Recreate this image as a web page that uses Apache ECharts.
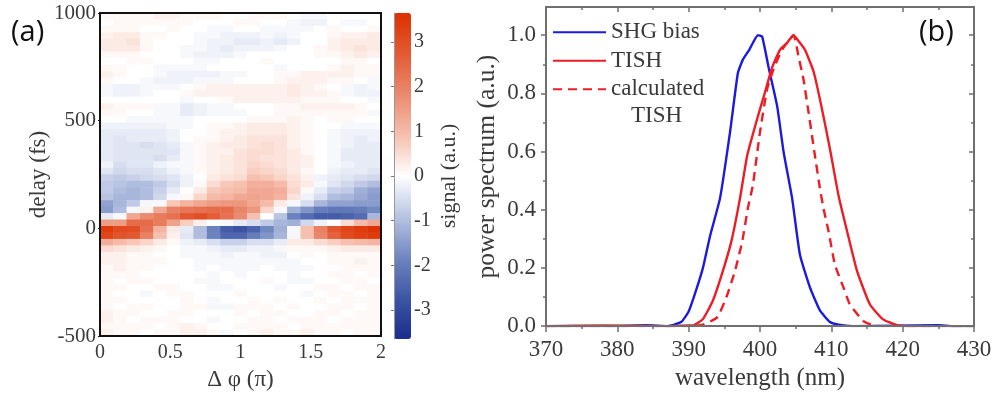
<!DOCTYPE html>
<html>
<head>
<meta charset="utf-8">
<style>
html,body{margin:0;padding:0;background:#fff;}
#main{width:995px;height:396px;filter:blur(0.5px);}
</style>
<script src="https://cdn.jsdelivr.net/npm/echarts@6/dist/echarts.min.js"></script>
</head>
<body>
<div id="main"></div>
<script>
// panel (a): phase bins across, rows run from +1000 fs (top) to -500 fs (bottom)
var phaseBins = [0,0.1,0.2,0.3,0.4,0.5,0.6,0.7,0.8,0.9,1,1.1,1.2,1.3,1.4,1.5,1.6,1.7,1.8,1.9,2];
var signalRows = [
  [.1,.1,.1,.1,.2,.2,.1,.1,.1,0,0,.1,.1,.1,0,-.1,-.1,0,0,0,0],
  [0,.1,.1,.1,.1,.1,.1,0,0,0,.1,.1,0,0,-.1,-.2,-.2,0,-.1,-.1,0],
  [.1,.1,.1,0,0,.1,0,0,-.1,-.1,0,0,-.1,-.1,-.1,-.1,0,.1,0,0,.1],
  [.2,.3,.3,.1,.1,0,0,-.1,-.1,-.2,-.2,-.2,-.1,-.2,-.1,0,0,.1,.2,.2,.3],
  [.3,.3,.4,.1,0,0,0,-.1,-.2,-.2,-.3,-.3,-.2,-.3,-.2,0,0,.2,.3,.3,.3],
  [.3,.3,.3,.1,0,0,-.1,-.1,-.2,-.3,-.2,-.2,-.2,-.1,0,0,.1,.2,.3,.4,.3],
  [.1,.1,.1,0,0,0,-.1,-.2,-.2,-.2,-.1,0,0,0,0,0,.1,.1,.2,.3,.2],
  [0,0,.1,.1,0,0,0,-.1,-.1,0,0,0,.1,0,0,0,0,0,.1,.1,0],
  [.1,.1,0,0,-.1,-.1,-.1,-.1,0,0,0,0,0,-.1,0,0,0,.1,.2,.1,.1],
  [.2,.1,0,0,-.1,-.2,-.2,-.2,-.2,-.1,-.1,0,0,.1,.1,.2,.2,.2,.2,.1,.1],
  [.1,0,0,-.1,-.2,-.2,-.2,-.1,-.1,-.1,0,0,0,.1,.2,.2,.2,.1,.1,0,-.1],
  [-.1,-.2,-.2,-.1,-.1,-.1,0,.1,.2,.2,.2,.2,.2,.2,.3,.2,.1,0,-.1,-.2,-.1],
  [-.1,-.2,-.2,-.1,0,0,.1,.2,.2,.2,.2,.2,.2,.2,.3,.2,.2,.1,-.1,-.2,-.2],
  [0,0,0,0,0,0,-.1,0,0,.1,.2,.2,.2,.2,.2,.1,.1,.1,0,0,-.1],
  [.2,.1,.1,.1,-.1,-.1,-.3,-.2,-.1,-.1,0,0,0,.1,.1,.2,.2,.2,.2,.1,0],
  [.1,.1,0,0,-.1,-.1,-.3,-.2,-.1,-.1,-.1,0,0,.1,.1,.1,.1,.1,.1,.1,-.1],
  [0,0,-.1,-.1,-.1,-.1,-.1,0,0,0,0,.1,.1,.1,.2,.1,0,.1,.1,0,0],
  [-.2,-.2,-.2,-.2,-.2,-.1,-.1,0,.1,.1,.2,.3,.3,.3,.2,.1,0,0,-.1,-.1,-.1],
  [-.3,-.3,-.3,-.3,-.3,-.2,0,0,.1,.2,.2,.3,.3,.3,.2,.1,0,-.1,-.2,-.2,-.2],
  [-.3,-.4,-.3,-.3,-.3,-.2,0,.1,.1,.2,.3,.4,.4,.4,.2,.1,0,-.1,-.2,-.3,-.2],
  [-.3,-.4,-.4,-.5,-.4,-.3,-.1,.1,.2,.3,.3,.4,.5,.4,.2,.1,0,-.1,-.2,-.3,-.3],
  [-.3,-.4,-.4,-.4,-.4,-.4,-.1,.1,.2,.2,.4,.5,.5,.4,.3,.1,0,-.1,-.3,-.3,-.3],
  [-.3,-.4,-.4,-.4,-.5,-.3,-.1,.1,.2,.3,.4,.5,.4,.4,.3,.2,0,-.1,-.3,-.3,-.3],
  [-.2,-.5,-.4,-.4,-.2,-.1,-.1,.1,.2,.3,.4,.6,.5,.4,.3,.2,0,-.1,-.2,-.3,-.3],
  [-.4,-.6,-.5,-.5,-.4,-.2,-.1,.1,.2,.3,.4,.7,.6,.5,.3,.1,0,-.2,-.3,-.3,-.4],
  [-.7,-.8,-.7,-.6,-.5,-.4,-.2,0,.3,.4,.5,.9,.8,.6,.4,.2,-.2,-.3,-.4,-.5,-.6],
  [-.8,-.9,-1,-1,-.8,-.5,-.2,.1,.5,.8,.9,1.2,1.2,1,.5,.3,-.1,-.4,-.6,-.8,-1],
  [-.8,-1,-1.1,-1,-.7,-.3,0,.3,.8,.9,1,1.3,1.3,1.2,.6,.1,-.3,-.7,-.8,-1.2,-1.4],
  [-.9,-1.1,-1.1,-1,-.6,-.1,.1,.6,1,1.1,1.3,1.4,1.3,1.1,.4,-.2,-.5,-1,-1.1,-1.3,-1.5],
  [-1.4,-1.1,-.8,-.1,-.1,.8,1.1,1.3,1.5,1.6,1.6,1.3,1,.3,-.1,-.5,-1.1,-1.4,-1.4,-1.5,-1.5],
  [-1.5,-1,-.1,.2,1.3,2,2.2,2.3,2.4,2.4,1.9,1.6,.6,-.1,-1.2,-1.6,-2,-2.1,-2.1,-2,-1.8],
  [-.3,-.1,1.3,1.8,2.1,2.3,2.8,3,2.7,2.3,1.8,.9,0,-.9,-1.9,-2.3,-2.6,-2.6,-2.5,-2.3,-1.1],
  [1.5,1.5,2.4,2.4,2.1,1.4,.7,.2,0,-.1,-.3,-.5,-.8,-1.1,-1.2,-.6,-.2,0,.5,1,1.3],
  [3.4,3.1,3,2.3,1.1,.3,-.3,-1,-1.9,-2.6,-2.8,-2.5,-1.8,-1.2,-.1,.9,2,2.8,3.2,3.4,3.6],
  [3.2,2.9,2.8,2,.9,.2,-.4,-1,-1.9,-2.4,-2.4,-2,-1.6,-1.1,-.1,.9,1.9,2.6,3.1,3.3,3.4],
  [1.2,1,.8,.6,.3,.1,-.2,-.3,-.5,-.7,-.7,-.5,-.5,-.3,.3,.3,.5,.7,.9,1,1.1],
  [.5,.4,.3,.2,.1,0,-.1,-.1,-.2,-.3,-.3,-.2,-.2,-.1,.1,.1,.1,.2,.3,.3,.3],
  [.2,.2,.1,.1,0,0,-.1,-.1,-.1,-.2,-.1,-.1,-.2,-.2,0,.1,0,.1,.1,.1,.1],
  [.2,.2,.1,.1,.1,0,0,-.1,-.1,-.1,-.1,-.1,-.1,-.1,-.1,0,0,.1,.1,.2,.1],
  [.1,.2,.1,.1,0,0,0,-.1,0,-.1,-.1,-.1,0,-.1,-.1,-.1,0,0,.1,.1,.1],
  [.1,.1,.1,0,0,0,0,0,-.1,0,-.1,0,0,0,-.1,0,0,.1,.1,0,.1],
  [.1,0,.1,.1,0,0,0,-.1,-.1,0,0,0,.1,0,-.1,-.1,0,0,.1,.1,0],
  [.1,.1,0,0,.1,.1,0,0,-.1,-.1,0,0,0,-.1,0,0,.1,.1,0,.1,.1],
  [.1,0,0,-.1,0,.1,.1,0,0,0,.1,0,0,0,0,-.1,0,.1,.1,0,.1],
  [.1,.1,0,0,0,0,.1,0,-.1,0,0,.1,0,.1,0,0,.1,0,.1,.1,.1],
  [.1,0,.1,.1,0,0,.1,.1,-.1,-.1,.1,.1,.1,0,.1,0,0,.1,.1,0,.1],
  [.2,.1,.1,0,0,.1,.1,0,0,0,.1,0,.1,.1,0,0,.1,.1,0,.1,.1],
  [.2,.1,0,.1,.1,.1,0,0,-.1,0,0,.1,.1,0,.1,.1,.1,0,.1,.1,.1],
  [.1,.1,.1,.1,0,.1,.2,.1,0,0,.1,.1,.1,.1,0,.1,.1,.1,.1,.1,.1],
  [.2,.1,.1,0,.1,.1,.2,.2,.1,-.1,0,.1,.2,.1,.1,.2,.1,.1,0,.1,.1]
];
var signalTicks = [-3,-2,-1,0,1,2,3];
var signalColors = ['#1a2d8c','#3e55a5','#6f86c0','#b7c3e2','#ffffff','#f6bfae','#ea8a6e','#e35a34','#dd3000'];

// panel (b): [wavelength nm, power]
var powerTicks = [0,.2,.4,.6,.8,1];
var shgBias = [[370,0],[380,0],[384,.003],[387,0],[388,.005],[389,.015],[390,.05],[391,.12],[392,.2],[393,.31],[394.4,.44],[395.8,.667],[396.9,.87],[397.6,.916],[398.5,.95],[399.7,1],[400.3,.995],[401.2,.89],[402.4,.757],[403.3,.6],[404.5,.44],[405.6,.245],[407,.133],[408.4,.054],[409.8,.014],[411,.005],[413,0],[425,.003],[427,0],[430,0]];
var tish = [[370,0],[378,.002],[387,0],[390,.002],[390.7,.003],[392,.024],[393.4,.088],[394.8,.19],[396,.293],[397.2,.44],[398.2,.586],[399.6,.712],[400.7,.804],[401.7,.889],[402.8,.95],[403.8,.974],[404.7,1],[405.4,.98],[406.3,.95],[407.5,.876],[408.6,.757],[409.8,.61],[411,.45],[412.2,.327],[413.6,.19],[415.4,.075],[417.2,.024],[419.2,.003],[421,0],[430,0]];
var calcTish = [[370,0],[390,0],[392,.005],[394,.03],[395.3,.1],[396.5,.19],[397.5,.29],[398.3,.405],[399,.485],[400,.667],[401,.815],[402,.89],[403.1,.95],[404.7,1],[405.4,.927],[406.1,.848],[406.8,.736],[407.7,.586],[408.4,.474],[408.9,.405],[409.6,.327],[410.5,.211],[411.7,.133],[412.6,.075],[414.5,.017],[415.9,.002],[417,0],[430,0]];

var serif = '"Liberation Serif"';
var gray = '#6f6f6f', textGray = '#3a3a3a';
var powerMax = 1.097;

var delayBins = [];
for(var i=0;i<signalRows.length;i++){ delayBins.push(i); }
var heatData = [];
signalRows.forEach(function(row,r){
  row.forEach(function(v,c){ heatData.push([c,r,v]); });
});

function frameAxis(gridIndex,pos,color,width){
  return {type:'value',gridIndex:gridIndex,position:pos,z:5,
    axisLine:{show:true,onZero:false,lineStyle:{color:color,width:width}},
    axisTick:{show:false},axisLabel:{show:false},splitLine:{show:false}};
}

var chart = echarts.init(document.getElementById('main'),null,{renderer:'canvas'});
var topA = frameAxis(0,'top','#111',2);      topA.min=0; topA.max=2;
var rightA = frameAxis(0,'right','#111',2);  rightA.min=-500; rightA.max=1000;
var topB = frameAxis(2,'top',gray,2);        topB.min=370; topB.max=430; topB.interval=10;
topB.axisTick={show:true,inside:true,length:5,lineStyle:{color:gray,width:1.5}};
topB.minorTick={show:true,splitNumber:2,length:3,lineStyle:{color:gray,width:1.5}};
var rightB = frameAxis(2,'right',gray,2);    rightB.min=0; rightB.max=powerMax; rightB.interval=.2;
rightB.axisTick={show:true,inside:true,length:5,customValues:powerTicks,lineStyle:{color:gray,width:1.5}};
rightB.minorTick={show:true,splitNumber:2,length:3,lineStyle:{color:gray,width:1.5}};

chart.setOption({
  animation:false,
  backgroundColor:'#fff',
  grid:[
    {left:100,top:13,width:281,height:325},
    {left:394,top:13,width:17,height:326},
    {left:546,top:7,width:428,height:322}
  ],
  visualMap:{
    type:'continuous',seriesIndex:0,min:-3.65,max:3.65,calculable:false,
    left:394,top:13,itemWidth:17,itemHeight:326,text:['',''],showLabel:false,
    inRange:{color:signalColors},borderWidth:0,padding:0
  },
  xAxis:[
    {type:'category',gridIndex:0,data:phaseBins,show:false},
    {type:'value',gridIndex:0,position:'bottom',min:0,max:2,interval:.5,z:5,
      name:'Δ φ (π)',nameLocation:'middle',nameGap:28,
      nameTextStyle:{fontFamily:serif,fontSize:23,color:textGray},
      axisLine:{show:true,onZero:false,lineStyle:{color:'#111',width:2}},
      axisTick:{show:false},
      axisLabel:{fontFamily:serif,fontSize:20,color:textGray,margin:7,hideOverlap:false},
      splitLine:{show:false}},
    topA,
    {type:'value',gridIndex:1,min:0,max:1,show:false},
    {type:'value',gridIndex:2,position:'bottom',min:370,max:430,interval:10,z:5,
      name:'wavelength (nm)',nameLocation:'middle',nameGap:37,
      nameTextStyle:{fontFamily:serif,fontSize:25,color:textGray},
      axisLine:{show:true,onZero:false,lineStyle:{color:gray,width:2}},
      axisTick:{show:true,length:6,lineStyle:{color:gray,width:1.5}},
      minorTick:{show:true,splitNumber:2,length:3,lineStyle:{color:gray,width:1.5}},
      axisLabel:{fontFamily:serif,fontSize:23,color:textGray,margin:12},
      splitLine:{show:false}},
    topB
  ],
  yAxis:[
    {type:'category',gridIndex:0,data:delayBins,inverse:true,show:false},
    {type:'value',gridIndex:0,position:'left',min:-500,max:1000,interval:500,z:5,
      name:'delay (fs)',nameLocation:'middle',nameGap:49,
      nameTextStyle:{fontFamily:serif,fontSize:23,color:textGray},
      axisLine:{show:true,onZero:false,lineStyle:{color:'#111',width:2}},
      axisTick:{show:true,length:2,lineStyle:{color:'#111'}},
      axisLabel:{fontFamily:serif,fontSize:21,color:textGray,margin:4,
        formatter:function(v){return String(v);}},
      splitLine:{show:false}},
    rightA,
    {type:'value',gridIndex:1,position:'right',min:-3.65,max:3.65,z:5,
      name:'signal (a.u.)',nameLocation:'middle',nameGap:27,
      nameTextStyle:{fontFamily:serif,fontSize:22,color:textGray},
      axisLine:{show:true,lineStyle:{color:'#999',width:1}},
      axisTick:{show:true,inside:true,length:3,customValues:signalTicks,lineStyle:{color:'#777'}},
      axisLabel:{fontFamily:serif,fontSize:20,color:textGray,margin:3,customValues:signalTicks},
      splitLine:{show:false}},
    {type:'value',gridIndex:2,position:'left',min:0,max:powerMax,interval:.2,z:5,
      name:'power spectrum (a.u.)',nameLocation:'middle',nameGap:46,
      nameTextStyle:{fontFamily:serif,fontSize:25.5,color:textGray},
      axisLine:{show:true,onZero:false,lineStyle:{color:gray,width:2}},
      axisTick:{show:true,length:5,customValues:powerTicks,lineStyle:{color:gray,width:1.5}},
      minorTick:{show:true,splitNumber:2,length:3,lineStyle:{color:gray,width:1.5}},
      axisLabel:{fontFamily:serif,fontSize:23,color:textGray,margin:10,customValues:powerTicks,
        formatter:function(v){return v.toFixed(1);}},
      splitLine:{show:false}},
    rightB
  ],
  legend:{
    left:552,top:18,orient:'vertical',itemWidth:53,itemHeight:14,itemGap:0,padding:0,
    itemStyle:{color:'transparent',borderWidth:0},
    textStyle:{fontFamily:serif,fontSize:23,color:textGray,padding:[0,0,0,0],lineHeight:28.5},
    data:['SHG bias','TISH','calculated']
  },
  series:[
    {type:'heatmap',xAxisIndex:0,yAxisIndex:0,data:heatData,progressive:0},
    {name:'SHG bias',type:'line',xAxisIndex:4,yAxisIndex:4,data:shgBias,showSymbol:false,symbol:'none',smooth:0.15,
      lineStyle:{color:'#1a1ae0',width:2.4},itemStyle:{color:'#1a1ae0'},z:3},
    {name:'TISH',type:'line',xAxisIndex:4,yAxisIndex:4,data:tish,showSymbol:false,symbol:'none',smooth:0.15,
      lineStyle:{color:'#ee1c25',width:2.4},itemStyle:{color:'#ee1c25'},z:4},
    {name:'calculated',type:'line',xAxisIndex:4,yAxisIndex:4,data:calcTish,showSymbol:false,symbol:'none',smooth:0.15,
      lineStyle:{color:'#ee1c25',width:2.4,type:[9,6]},itemStyle:{color:'#ee1c25'},z:4}
  ],
  graphic:[
    {type:'text',left:11,top:18,style:{text:'(a)',fontFamily:'"Open Sans"',fontSize:29,fill:'#111'}},
    {type:'text',left:919,top:18,style:{text:'(b)',fontFamily:'"Open Sans"',fontSize:29,fill:'#111'}},
    {type:'text',left:631,top:104,style:{text:'TISH',fontFamily:serif,fontSize:23,fill:textGray}}
  ]
});
</script>
</body>
</html>
